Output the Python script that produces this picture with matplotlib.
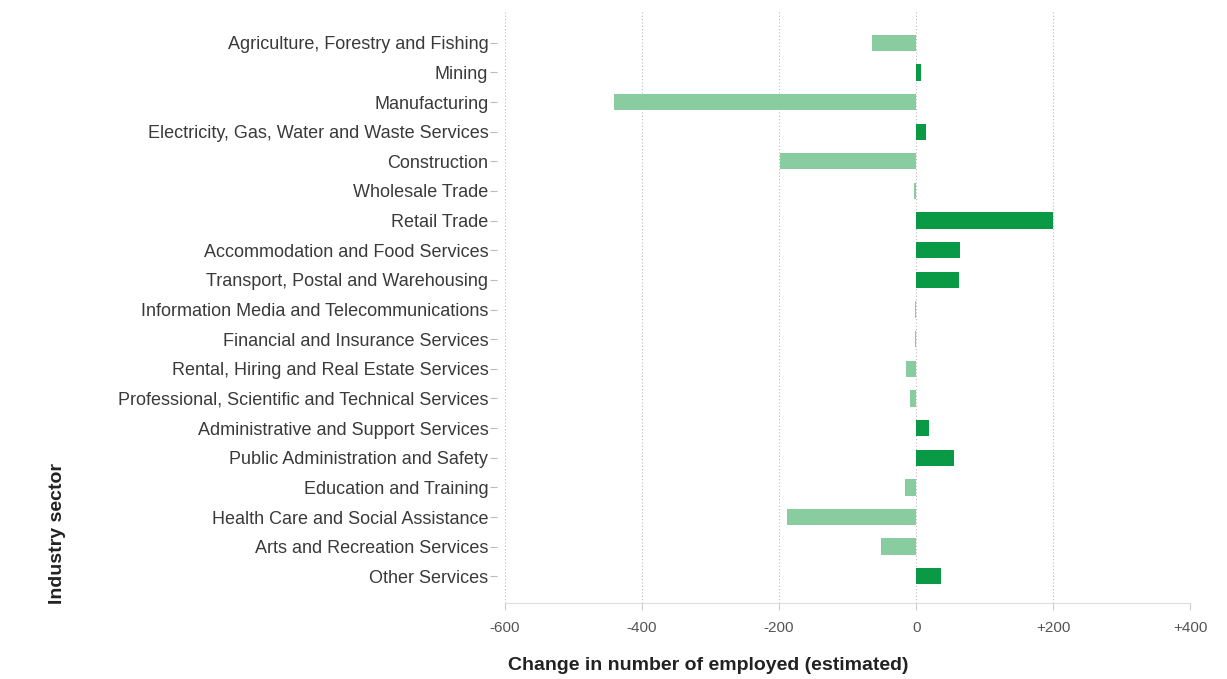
import matplotlib
matplotlib.use("Agg")
import matplotlib.pyplot as plt

sectors = [
    "Agriculture, Forestry and Fishing",
    "Mining",
    "Manufacturing",
    "Electricity, Gas, Water and Waste Services",
    "Construction",
    "Wholesale Trade",
    "Retail Trade",
    "Accommodation and Food Services",
    "Transport, Postal and Warehousing",
    "Information Media and Telecommunications",
    "Financial and Insurance Services",
    "Rental, Hiring and Real Estate Services",
    "Professional, Scientific and Technical Services",
    "Administrative and Support Services",
    "Public Administration and Safety",
    "Education and Training",
    "Health Care and Social Assistance",
    "Arts and Recreation Services",
    "Other Services",
]
changes = [-64, 7, -441, 14, -199, -3, 200, 64, 62, -2, -2, -15, -9, 19, 55, -16, -189, -51, 37]
xticks = [-600, -400, -200, 0, 200, 400]
xticklabels = ["-600", "-400", "-200", "0", "+200", "+400"]

plt.rcParams['font.family'] = ['Liberation Sans', 'DejaVu Sans']

fig = plt.figure(figsize=(12.27, 6.79), dpi=100)
ax = fig.add_axes([0.4116, 0.112, 0.970 - 0.4116, 0.985 - 0.112])
ax.spines["left"].set_position(("outward", 6))
ax.spines["left"].set_color("none")
for s in ["top", "right"]:
    ax.spines[s].set_visible(False)
ax.spines["bottom"].set_color("#dddddd")

pos_c = "#0a9a46"
neg_c = "#88cc9f"
colors = [pos_c if v > 0 else neg_c for v in changes]
ypos = list(range(len(sectors)))
ax.barh(ypos, changes, height=0.55, color=colors, zorder=3)

ax.set_xlim(-600, 400)
ax.set_ylim(len(sectors) - 0.1, -1.1)
ax.set_xticks(xticks)
ax.set_xticklabels(xticklabels, color="#555555", fontsize=11)
ax.set_yticks(ypos)
ax.set_yticklabels(sectors, color="#3a3a3a", fontsize=13)
ax.tick_params(axis='y', length=5, color="#bbbbbb", pad=1)
ax.tick_params(axis='x', length=5, color="#cccccc", pad=8)

for x in xticks:
    ax.axvline(x, color="#bbbbbb", linestyle=(0, (1, 2)), linewidth=0.8, zorder=1)

fig.text(0.414, 0.008, "Change in number of employed (estimated)", fontsize=14,
         fontweight="bold", color="#222222", ha="left", va="bottom")
fig.text(0.047, 0.11, "Industry sector", fontsize=14, fontweight="bold",
         color="#222222", rotation=90, ha="center", va="bottom")

fig.savefig("out.png", dpi=100)
